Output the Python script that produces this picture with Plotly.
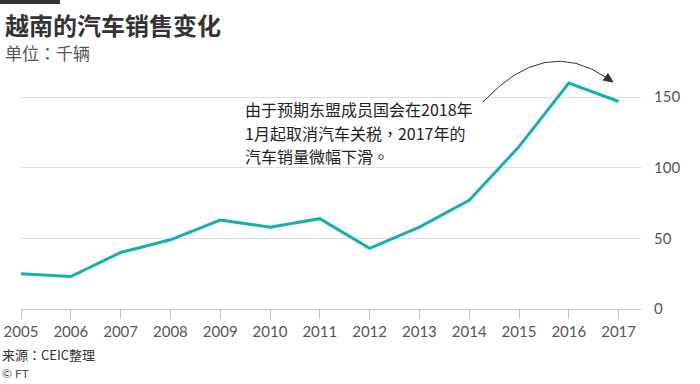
import plotly.graph_objects as go

years = [2005, 2006, 2007, 2008, 2009, 2010, 2011, 2012, 2013, 2014, 2015, 2016, 2017]
sales = [25, 23, 40, 49, 63, 58, 64, 43, 58, 77, 115, 160, 147]
y_ticks = [0, 50, 100, 150]

TCP = '<span style="font-family:\'Noto Sans CJK TC\'">{}</span>'
title = "越南的汽车销售变化"
subtitle = "单位" + TCP.format("：") + "千辆"
note_lines = ["由于预期东盟成员国会在2018年",
              "1月起取消汽车关税" + TCP.format("，") + "2017年的",
              "汽车销量微幅下滑" + TCP.format("。")]
source = "来源" + TCP.format("：") + "CEIC整理"
credit = "© FT"

W, H = 700, 384
L, R, T, B = 21, 641, 69, 309
CJK = "Noto Sans CJK SC"
NUM = "Lato, Noto Sans CJK SC"


def px(X):
    return (X - L) / (R - L)


def py(Y):
    return (B - Y) / (B - T)


fig = go.Figure()
fig.add_trace(go.Scatter(x=years, y=sales, mode="lines",
                         line=dict(color="#14b1ac", width=3),
                         hoverinfo="skip", showlegend=False))

fig.update_layout(
    width=W, height=H,
    margin=dict(l=L, r=W - R, t=T, b=H - B, autoexpand=False),
    paper_bgcolor="white", plot_bgcolor="white",
    xaxis=dict(range=[2005, 2005 + (R - L) / 49.8], tickvals=years,
               ticktext=[str(y) for y in years], showgrid=False,
               showline=True, linecolor="#c4c4c4", linewidth=1,
               ticks="outside", ticklen=9, tickcolor="#c4c4c4",
               tickfont=dict(family=NUM, size=15, color="#555555"),
               zeroline=False, fixedrange=True, automargin=False),
    yaxis=dict(range=[0, 170], tickvals=y_ticks, side="right",
               showgrid=True, gridcolor="#dedede", gridwidth=1,
               zeroline=False, showline=False, ticks="",
               tickfont=dict(family=NUM, size=15, color="#555555"),
               ticklabelstandoff=12, fixedrange=True, automargin=False),
    font=dict(family=CJK),
)

# black bar at top
fig.add_shape(type="rect", xref="paper", yref="paper",
              x0=px(0), x1=px(60), y0=py(0), y1=py(4),
              fillcolor="#333333", line=dict(width=0))

ann = []
ann.append(dict(text=f"<b>{title}</b>", x=px(3), y=py(24), xref="paper", yref="paper",
                xanchor="left", yanchor="middle", showarrow=False,
                font=dict(family=CJK, size=24, color="#333333")))
ann.append(dict(text=subtitle, x=px(3), y=py(52), xref="paper", yref="paper",
                xanchor="left", yanchor="middle", showarrow=False,
                font=dict(family=CJK, size=17, color="#555555")))
for i, line in enumerate(note_lines):
    ann.append(dict(text=line, x=px(243), y=py(109 + 23.5 * i), xref="paper", yref="paper",
                    xanchor="left", yanchor="middle", showarrow=False,
                    font=dict(family=CJK, size=16, color="#222222")))
ann.append(dict(text=source, x=px(0), y=py(354), xref="paper", yref="paper",
                xanchor="left", yanchor="middle", showarrow=False,
                font=dict(family=CJK, size=13, color="#333333")))
ann.append(dict(text=credit, x=px(0), y=py(373), xref="paper", yref="paper",
                xanchor="left", yanchor="middle", showarrow=False,
                font=dict(family=NUM, size=12, color="#555555")))
fig.update_layout(annotations=ann)

# curved arrow
p0, p1, p2 = (483, 102), (545, 35), (607, 78)
fig.add_shape(type="path", xref="paper", yref="paper",
              path=f"M {px(p0[0])},{py(p0[1])} Q {px(p1[0])},{py(p1[1])} {px(p2[0])},{py(p2[1])}",
              line=dict(color="#333333", width=1))
tip, c1, c2 = (613, 82), (603.3, 80.2), (607.9, 73.6)
fig.add_shape(type="path", xref="paper", yref="paper",
              path=f"M {px(tip[0])},{py(tip[1])} L {px(c1[0])},{py(c1[1])} L {px(c2[0])},{py(c2[1])} Z",
              fillcolor="#333333", line=dict(color="#333333", width=1))

fig.write_html("out.html", config={"displayModeBar": False},
               post_script="document.body.style.margin='0';document.body.style.overflow='hidden';")
